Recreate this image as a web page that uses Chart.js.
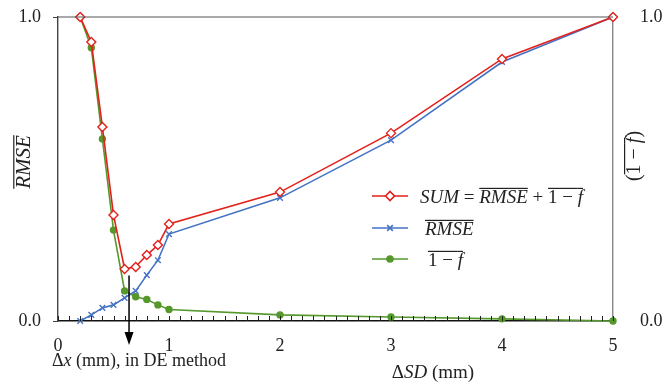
<!DOCTYPE html>
<html>
<head>
<meta charset="utf-8">
<script src="https://cdn.jsdelivr.net/npm/chart.js@4.4.1/dist/chart.umd.min.js"></script>
<style>
  html, body { margin: 0; padding: 0; background: #fff; }
  #wrap { width: 670px; height: 385px; }
</style>
</head>
<body>
<div id="wrap"><canvas id="c" width="670" height="385"></canvas></div>
<script>
// step sizes ΔSD (mm)
const xVals = [0.2, 0.3, 0.4, 0.5, 0.6, 0.7, 0.8, 0.9, 1, 2, 3, 4, 5];
const sumVals = [1.0, 0.918, 0.638, 0.349, 0.171, 0.178, 0.217, 0.25, 0.319, 0.424, 0.618, 0.862, 1.0];
const rmseVals = [0, 0.02, 0.043, 0.053, 0.076, 0.099, 0.151, 0.2, 0.286, 0.405, 0.595, 0.852, 1.0];
const oneMinusFVals = [1.0, 0.899, 0.599, 0.299, 0.099, 0.08, 0.071, 0.053, 0.038, 0.02, 0.013, 0.007, 0];
const xTicks = [0, 1, 2, 3, 4, 5];
const yTicks = [0, 1];
const deArrowX = 0.64; // Δx used in DE method

const SERIF = "'Liberation Serif', 'DejaVu Serif', serif";
const RED = '#e3211c', BLUE = '#4472c4', GREEN = '#55982b';

const pts = ys => xVals.map((x, i) => ({ x: x, y: ys[i] }));

// draw a line of mixed text (italic / overlined pieces)
function runsWidth(ctx, runs, size) {
  let w = 0;
  runs.forEach(r => {
    ctx.font = (r.it ? 'italic ' : '') + size + 'px ' + SERIF;
    w += ctx.measureText(r.t).width;
  });
  return w;
}
function drawRuns(ctx, runs, x, y, size) {
  ctx.textBaseline = 'alphabetic';
  ctx.textAlign = 'left';
  runs.forEach(r => {
    ctx.font = (r.it ? 'italic ' : '') + size + 'px ' + SERIF;
    const w = ctx.measureText(r.t).width;
    ctx.fillText(r.t, x, y);
    if (r.over) ctx.fillRect(x, y - size * 0.8, w, 1.2);
    x += w;
  });
}

const legendItems = [
  { color: RED, style: 'rectRot', fill: '#fff', radius: 4.5, y: 196, x: 420, runs: [
    { t: 'SUM', it: true }, { t: ' = ' }, { t: 'RMSE', it: true, over: true }, { t: ' + ' },
    { t: '1 − ', over: true }, { t: 'f', it: true, over: true }] },
  { color: BLUE, style: 'crossRot', fill: BLUE, radius: 4, y: 228, x: 425, runs: [
    { t: 'RMSE', it: true, over: true }] },
  { color: GREEN, style: 'circle', fill: GREEN, radius: 3, y: 259, x: 428, runs: [
    { t: '1 − ', over: true }, { t: 'f', it: true, over: true }] }
];

const extras = {
  id: 'extras',
  afterDraw(chart) {
    const ctx = chart.ctx, a = chart.chartArea;
    const xs = chart.scales.x, ys = chart.scales.y;
    ctx.save();
    // top frame line
    ctx.strokeStyle = '#555';
    ctx.lineWidth = 1.2;
    ctx.beginPath();
    ctx.moveTo(a.left, a.top); ctx.lineTo(a.right, a.top);
    ctx.stroke();
    // inward minor ticks on x axis
    ctx.strokeStyle = '#222';
    ctx.lineWidth = 1;
    xs.ticks.forEach(t => {
      const px = Math.round(xs.getPixelForValue(t.value)) + 0.5;
      ctx.beginPath();
      ctx.moveTo(px, a.bottom); ctx.lineTo(px, a.bottom - 5);
      ctx.stroke();
    });
    // arrow for DE method
    const ax = xs.getPixelForValue(deArrowX);
    ctx.strokeStyle = '#000';
    ctx.lineWidth = 1.5;
    ctx.beginPath();
    ctx.moveTo(ax, ys.getPixelForValue(0.15));
    ctx.lineTo(ax, a.bottom + 12);
    ctx.stroke();
    ctx.fillStyle = '#000';
    ctx.beginPath();
    ctx.moveTo(ax - 4.5, a.bottom + 11);
    ctx.lineTo(ax + 4.5, a.bottom + 11);
    ctx.lineTo(ax, a.bottom + 24);
    ctx.closePath();
    ctx.fill();
    ctx.fillStyle = '#222';
    drawRuns(ctx, [{ t: 'Δ' }, { t: 'x', it: true }, { t: ' (mm), in DE method' }], 52, 366, 18);
    // x axis title
    const xt = [{ t: 'Δ' }, { t: 'SD', it: true }, { t: ' (mm)' }];
    drawRuns(ctx, xt, 433 - runsWidth(ctx, xt, 19) / 2, 378, 19);
    // y titles
    const lt = [{ t: 'RMSE', it: true, over: true }];
    ctx.save();
    ctx.translate(30, 162); ctx.rotate(-Math.PI / 2);
    drawRuns(ctx, lt, -runsWidth(ctx, lt, 21) / 2, 0, 21);
    ctx.restore();
    const rt = [{ t: '(' }, { t: '1 − ', over: true }, { t: 'f', it: true, over: true }, { t: ')' }];
    ctx.save();
    ctx.translate(640, 156); ctx.rotate(-Math.PI / 2);
    drawRuns(ctx, rt, -runsWidth(ctx, rt, 20) / 2, 0, 20);
    ctx.restore();
    // legend
    legendItems.forEach(it => {
      ctx.strokeStyle = it.color;
      ctx.lineWidth = 1.6;
      ctx.beginPath();
      ctx.moveTo(372, it.y); ctx.lineTo(408, it.y);
      ctx.stroke();
      ctx.fillStyle = it.fill;
      Chart.helpers.drawPoint(ctx, { pointStyle: it.style, radius: it.radius, rotation: 0, borderWidth: 1.4 }, 390, it.y);
      ctx.fillStyle = '#222';
      drawRuns(ctx, it.runs, it.x, it.y + 7, 19);
    });
    ctx.restore();
  }
};

const ds = (label, data, color, style, radius, bg) => ({
  label: label, data: data, borderColor: color, backgroundColor: bg,
  pointStyle: style, pointRadius: radius, pointBorderColor: color, pointBackgroundColor: bg,
  pointBorderWidth: 1.4, borderWidth: 1.6, tension: 0, clip: false, yAxisID: 'y'
});

const fitV = w => s => { s.width = w; s.paddingTop = 0; s.paddingBottom = 0; };

new Chart(document.getElementById('c'), {
  type: 'line',
  data: {
    datasets: [
      ds('SUM', pts(sumVals), RED, 'rectRot', 4.5, '#fff'),
      ds('RMSE', pts(rmseVals), BLUE, 'crossRot', 4, BLUE),
      ds('1-f', pts(oneMinusFVals), GREEN, 'circle', 3, GREEN)
    ]
  },
  options: {
    responsive: false,
    animation: false,
    layout: { padding: { top: 17, left: 0, right: 0, bottom: 0 } },
    plugins: { legend: { display: false }, tooltip: { enabled: false } },
    scales: {
      x: {
        type: 'linear', min: 0, max: 5,
        grid: { display: false },
        border: { display: true, color: '#111', width: 1.6 },
        ticks: {
          stepSize: 0.1, autoSkip: false, maxRotation: 0, padding: 6,
          color: '#222', font: { family: SERIF, size: 18 },
          callback: v => {
            const r = Math.round(v);
            return Math.abs(v - r) < 1e-6 && xTicks.includes(r) ? String(r) : '';
          }
        },
        afterFit: s => { s.height = 64; s.paddingLeft = 0; s.paddingRight = 0; }
      },
      y: {
        position: 'left', min: 0, max: 1,
        grid: { display: true, drawOnChartArea: false, drawTicks: true, tickLength: 5, color: '#444' },
        border: { display: true, color: '#444', width: 1.4 },
        ticks: {
          stepSize: 1, padding: 12, color: '#222', font: { family: SERIF, size: 18 },
          callback: v => yTicks.includes(v) ? v.toFixed(1) : ''
        },
        afterFit: fitV(58)
      },
      y2: {
        position: 'right', min: 0, max: 1,
        grid: { display: false },
        border: { display: true, color: '#888', width: 1.4 },
        ticks: {
          stepSize: 1, padding: 19, color: '#222', font: { family: SERIF, size: 18 },
          callback: v => yTicks.includes(v) ? v.toFixed(1) : ''
        },
        afterFit: fitV(57)
      }
    }
  },
  plugins: [extras]
});
</script>
</body>
</html>
